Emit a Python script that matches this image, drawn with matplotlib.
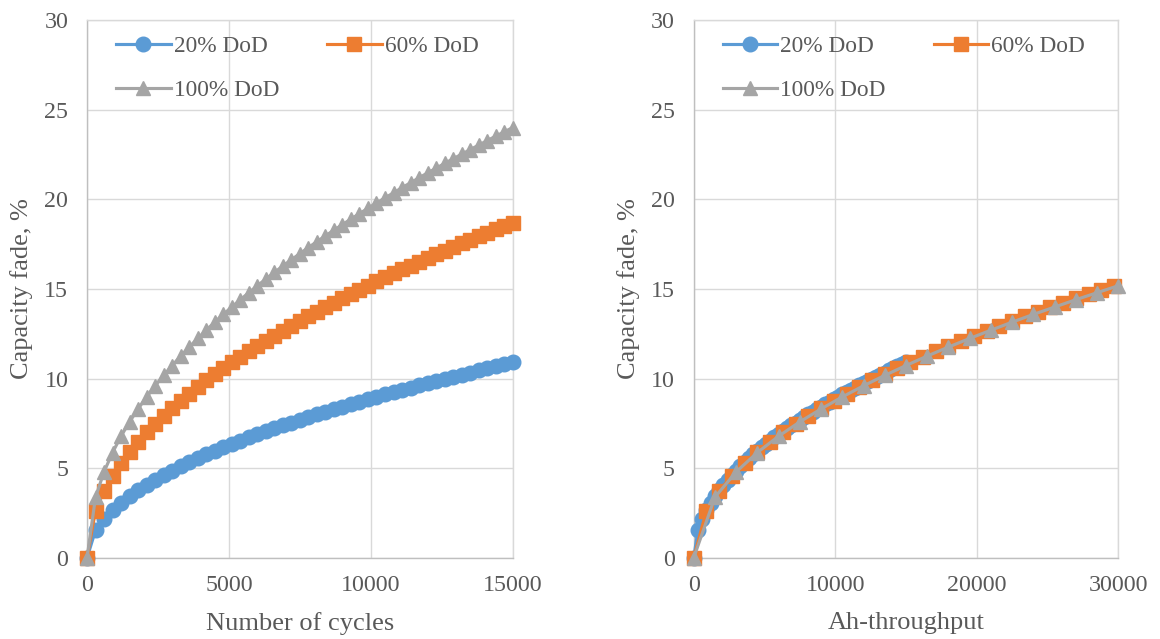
from matplotlib import pyplot as plt
from matplotlib.ticker import MultipleLocator

# cycle grid of the simulation (every 300 cycles)
cycles = [0, 300, 600, 900, 1200, 1500, 1800, 2100, 2400, 2700,
          3000, 3300, 3600, 3900, 4200, 4500, 4800, 5100, 5400, 5700,
          6000, 6300, 6600, 6900, 7200, 7500, 7800, 8100, 8400, 8700,
          9000, 9300, 9600, 9900, 10200, 10500, 10800, 11100, 11400, 11700,
          12000, 12300, 12600, 12900, 13200, 13500, 13800, 14100, 14400, 14700,
          15000]

# capacity fade in %
fade_20 = [0.00, 1.54, 2.18, 2.67, 3.08, 3.45, 3.78, 4.08, 4.36, 4.62,
           4.87, 5.11, 5.34, 5.56, 5.77, 5.97, 6.17, 6.36, 6.54, 6.72,
           6.89, 7.06, 7.23, 7.39, 7.55, 7.71, 7.86, 8.01, 8.16, 8.30,
           8.44, 8.58, 8.72, 8.86, 8.99, 9.12, 9.25, 9.38, 9.50, 9.63,
           9.75, 9.87, 9.99, 10.11, 10.23, 10.34, 10.46, 10.57, 10.68, 10.79,
           10.90]
fade_60 = [0.00, 2.64, 3.74, 4.58, 5.29, 5.91, 6.48, 7.00, 7.48, 7.93,
           8.36, 8.77, 9.16, 9.54, 9.90, 10.24, 10.58, 10.90, 11.22, 11.53,
           11.83, 12.12, 12.40, 12.68, 12.96, 13.22, 13.48, 13.74, 13.99, 14.24,
           14.48, 14.72, 14.96, 15.19, 15.42, 15.65, 15.87, 16.09, 16.30, 16.52,
           16.73, 16.93, 17.14, 17.34, 17.54, 17.74, 17.94, 18.13, 18.32, 18.51,
           18.70]
fade_100 = [0.00, 3.39, 4.80, 5.88, 6.79, 7.59, 8.31, 8.98, 9.60, 10.18,
            10.73, 11.26, 11.76, 12.24, 12.70, 13.15, 13.58, 13.99, 14.40, 14.79,
            15.18, 15.55, 15.92, 16.28, 16.63, 16.97, 17.31, 17.64, 17.96, 18.28,
            18.59, 18.90, 19.20, 19.50, 19.79, 20.08, 20.36, 20.65, 20.92, 21.20,
            21.47, 21.73, 22.00, 22.26, 22.51, 22.77, 23.02, 23.27, 23.52, 23.76,
            24.00]

labels = ["20% DoD", "60% DoD", "100% DoD"]
ah_per_cycle = [1, 3, 5]   # Ah moved per cycle at each DoD
ah_limit = 30000           # right panel only shows up to this throughput

colors = ["#5B9BD5", "#ED7D31", "#A5A5A5"]
markers = ["o", "s", "^"]
text_color = "#595959"
grid_color = "#D9D9D9"

plt.rcParams['font.family'] = ['Liberation Serif', 'DejaVu Serif']
plt.rcParams['figure.dpi'] = 100

fig = plt.figure(figsize=(11.6, 6.39))
ax1 = fig.add_axes([0.075, 0.1268, 0.367, 0.842])
ax2 = fig.add_axes([0.598, 0.1268, 0.366, 0.842])

series = [fade_20, fade_60, fade_100]


def style_axis(ax, xmax, xstep, xlabel):
    ax.set_xlim(0, xmax)
    ax.set_ylim(0, 30)
    ax.xaxis.set_major_locator(MultipleLocator(xstep))
    ax.yaxis.set_major_locator(MultipleLocator(5))
    ax.grid(True, color=grid_color, lw=1.0, zorder=0)
    ax.set_axisbelow(True)
    for name, sp in ax.spines.items():
        sp.set_linewidth(1.0)
        sp.set_color("#BFBFBF" if name in ("left", "bottom") else grid_color)
    ax.tick_params(length=0, labelsize=17.3, colors=text_color)
    ax.tick_params(axis="x", pad=12)
    ax.tick_params(axis="y", pad=13.5)
    ax.set_xlabel(xlabel, fontsize=19, color=text_color, labelpad=12)
    ax.set_ylabel("Capacity fade, %", fontsize=19, color=text_color, labelpad=8)
    ax.margins(0)
    # row-wise legend: 20% and 60% on top, 100% below
    h, l = ax.get_legend_handles_labels()
    order = [0, 2, 1]
    ax.legend([h[i] for i in order], [l[i] for i in order],
              loc="upper left", bbox_to_anchor=(0.024, 1.006), ncol=2, frameon=False,
              fontsize=16.8, labelcolor=text_color, handlelength=2.35,
              handletextpad=0.13, columnspacing=2.05, labelspacing=1.0,
              borderaxespad=0.4)


# left: against cycle number
for y, lab, c, m in zip(series, labels, colors, markers):
    ax1.plot(cycles, y, color=c, marker=m, ms=10.5, lw=2.25, label=lab,
             clip_on=False, zorder=3)
style_axis(ax1, 15000, 5000, "Number of cycles")

# right: against Ah-throughput
for y, lab, c, m, k in zip(series, labels, colors, markers, ah_per_cycle):
    ah = [n * k for n in cycles if n * k <= ah_limit]
    ax2.plot(ah, y[:len(ah)], color=c, marker=m, ms=10.5, lw=2.25, label=lab,
             clip_on=False, zorder=3)
style_axis(ax2, 30000, 10000, "Ah-throughput")

plt.savefig("out.png", dpi=100)
